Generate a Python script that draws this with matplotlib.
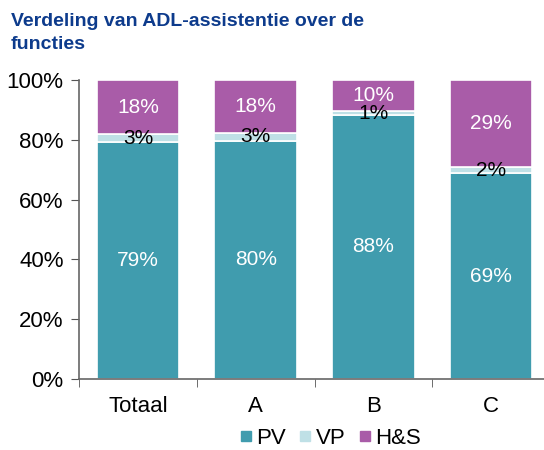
import matplotlib
matplotlib.use("Agg")
import matplotlib.pyplot as plt
import numpy as np
from matplotlib.ticker import FixedLocator, PercentFormatter
from matplotlib.lines import Line2D

plt.rcParams['font.family'] = ['Liberation Sans', 'DejaVu Sans']

categories = ["Totaal", "A", "B", "C"]
pv = [79.3, 79.6, 88.3, 68.8]
vp = [2.6, 2.7, 1.2, 2.0]
hs = [18.1, 17.7, 10.5, 29.2]
series_names = ["PV", "VP", "H&S"]
colors = ["#409CAE", "#BFE0E6", "#A95CA8"]
label_colors = ["white", "black", "white"]
title = "Verdeling van ADL-assistentie over de\nfuncties"

fig = plt.figure(figsize=(5.44, 4.5), dpi=100)
ax = fig.add_axes([79/544, 1-379/450, 471/544, 299/450])

x = np.arange(len(categories))
bottom = np.zeros(len(categories))
for vals, col, lc, name in zip([pv, vp, hs], colors, label_colors, series_names):
    vals = np.array(vals)
    ax.bar(x, vals, 0.7, bottom=bottom, color=col, edgecolor="white", linewidth=1.2, label=name)
    for xi, b, v in zip(x, bottom, vals):
        ax.text(xi, b + v/2, f"{int(round(v))}%", ha="center", va="center",
                color=lc, fontsize=15)
    bottom += vals

ax.set_xlim(-0.5, len(categories) - 0.5)
ax.set_ylim(0, 100)
ax.yaxis.set_major_locator(FixedLocator([0, 20, 40, 60, 80, 100]))
ax.yaxis.set_major_formatter(PercentFormatter(decimals=0))
ax.set_xticks(x)
ax.set_xticklabels(categories)
ax.set_xticks(np.arange(len(categories) + 1) - 0.5, minor=True)
ax.tick_params(axis="x", which="major", length=0, labelsize=16, pad=12)
ax.tick_params(axis="x", which="minor", length=6, direction="out", color="#555555")
ax.tick_params(axis="y", length=6, direction="out", color="#555555", labelsize=16, pad=5)
for s in ["top", "right"]:
    ax.spines[s].set_visible(False)
for s in ["left", "bottom"]:
    ax.spines[s].set_color("#666666")
    ax.spines[s].set_linewidth(1.2)

fig.text(11/544, 1-13/450, title, ha="left", va="top", fontsize=14,
         fontweight="bold", color="#0D3B8C", linespacing=1.45)

handles = [Line2D([], [], marker="s", linestyle="none", markersize=7,
                  markerfacecolor=c, markeredgecolor=c) for c in colors]
fig.legend(handles, series_names, loc="center", bbox_to_anchor=(330/544, 1-438/450),
           ncol=3, frameon=False, fontsize=16, handletextpad=0.15, columnspacing=0.6,
           handlelength=0.6)

fig.savefig("out.png", dpi=100)
